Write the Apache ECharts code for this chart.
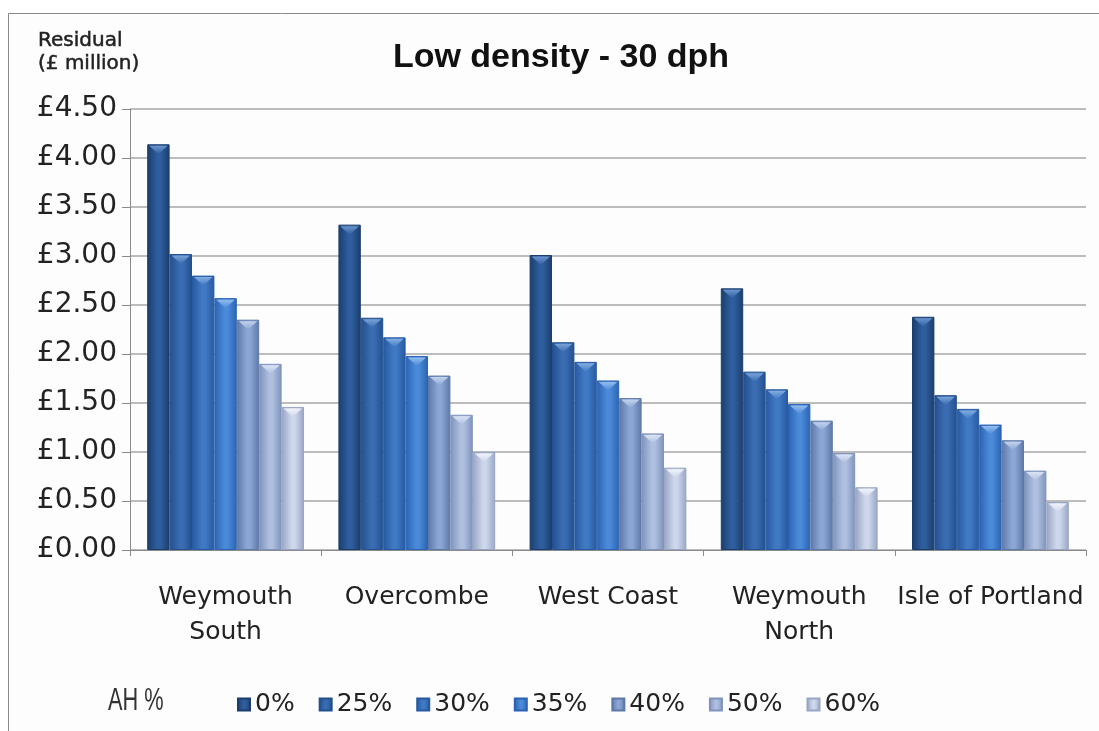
<!DOCTYPE html>
<html>
<head>
<meta charset="utf-8">
<script src="https://cdn.jsdelivr.net/npm/echarts@6/dist/echarts.min.js"></script>
<style>
  html, body { margin: 0; padding: 0; background: #ffffff; }
  #chart { width: 1099px; height: 731px; }
</style>
</head>
<body>
<div id="chart"></div>
<script>
// Residual land value by area and affordable housing share (£ million)
const areas = ['Weymouth\nSouth', 'Overcombe', 'West Coast', 'Weymouth\nNorth', 'Isle of Portland'];
const ahLevels = ['0%', '25%', '30%', '35%', '40%', '50%', '60%'];

const ah0  = [4.14, 3.32, 3.01, 2.67, 2.38];
const ah25 = [3.02, 2.37, 2.12, 1.82, 1.58];
const ah30 = [2.80, 2.17, 1.92, 1.64, 1.44];
const ah35 = [2.57, 1.98, 1.73, 1.49, 1.28];
const ah40 = [2.35, 1.78, 1.55, 1.32, 1.12];
const ah50 = [1.90, 1.38, 1.19, 0.99, 0.81];
const ah60 = [1.46, 1.00, 0.84, 0.64, 0.49];

const seriesValues = [ah0, ah25, ah30, ah35, ah40, ah50, ah60];

const yTicks = { min: 0, max: 4.5, interval: 0.5 };

const CATEGORY_GAP = 0.18;

// [edge, centre, highlight] shades for each bar family
const shades = [
  ['#1b3d6c', '#2e5e9e', '#6f98d0'],
  ['#22508e', '#3a6cb2', '#7ea6dc'],
  ['#2759a0', '#4079c4', '#88b0e4'],
  ['#2b63b2', '#4a8ad8', '#98c0f0'],
  ['#5d78a8', '#8ba6d4', '#c6d6f0'],
  ['#7f93bb', '#aebfe0', '#dde6f6'],
  ['#98a5c4', '#cdd6ea', '#f2f5fc']
];

const FONT = 'DejaVu Sans, Verdana, sans-serif';

function barFill(pair) {
  return new echarts.graphic.LinearGradient(0, 0, 1, 0, [
    { offset: 0, color: pair[0] },
    { offset: 0.45, color: pair[1] },
    { offset: 0.6, color: pair[1] },
    { offset: 1, color: pair[0] }
  ]);
}

const chart = echarts.init(document.getElementById('chart'), null, { renderer: 'canvas' });

const barSeries = ahLevels.map((name, i) => ({
  name: name,
  type: 'bar',
  data: seriesValues[i],
  barGap: '0%',
  barCategoryGap: (CATEGORY_GAP * 100) + '%',
  itemStyle: {
    color: barFill(shades[i]),
    borderColor: shades[i][0],
    borderWidth: 1
  },
  emphasis: { disabled: true }
}));

// Bevel highlight on the top of each bar, placed from the same values
const bevelSeries = ahLevels.map((name, i) => ({
  name: 'bevel ' + name,
  type: 'custom',
  silent: true,
  z: 3,
  data: seriesValues[i].map((v, c) => [c, v]),
  renderItem: function (params, api) {
    const pt = api.coord([api.value(0), api.value(1)]);
    const band = api.size([1, 0])[0];
    const barW = band * (1 - CATEGORY_GAP) / ahLevels.length;
    const left = pt[0] - band * (1 - CATEGORY_GAP) / 2 + i * barW;
    const top = pt[1];
    const inset = 2;
    const depth = Math.min(10, barW * 0.45);
    return {
      type: 'polygon',
      shape: {
        points: [
          [left + inset, top + 1.5],
          [left + barW - inset, top + 1.5],
          [left + barW / 2, top + depth]
        ]
      },
      style: {
        fill: new echarts.graphic.LinearGradient(0, 0, 0, 1, [
          { offset: 0, color: shades[i][2] },
          { offset: 1, color: shades[i][1] }
        ]),
        opacity: 0.95
      }
    };
  }
}));

chart.setOption({
  animation: false,
  backgroundColor: '#ffffff',
  title: {
    text: 'Low density - 30 dph',
    left: 556,
    textAlign: 'center',
    top: 36,
    textStyle: { fontFamily: 'Liberation Sans, Arial, sans-serif', fontSize: 34, fontWeight: 'bold', color: '#111' }
  },
  graphic: [
    {
      type: 'rect', z: -10, silent: true,
      shape: { x: 8.5, y: 13.5, width: 1200, height: 800 },
      style: { fill: '#fdfdfd', stroke: '#8a8a8a', lineWidth: 1 }
    },
    {
      type: 'text', x: 38, y: 29, silent: true,
      style: {
        text: 'Residual\n(£ million)', font: '20px ' + FONT, lineHeight: 23,
        fill: '#222', stroke: '#222', lineWidth: 0.5
      }
    },
    {
      type: 'text', x: 108, y: 685, scaleX: 0.68, silent: true,
      style: { text: 'AH %', font: '32px Liberation Sans, Arial, sans-serif', fill: '#333' }
    }
  ],
  legend: {
    data: ahLevels,
    left: 232,
    top: 687,
    icon: 'rect',
    itemWidth: 12,
    itemHeight: 12,
    itemGap: 24,
    textStyle: { fontFamily: FONT, fontSize: 25, color: '#222' }
  },
  grid: { left: 130, right: 13, top: 109, bottom: 181, containLabel: false },
  xAxis: {
    type: 'category',
    data: areas,
    axisLine: { show: true, lineStyle: { color: '#8a8a8a', width: 1 } },
    axisTick: { show: true, length: 6, lineStyle: { color: '#8a8a8a' } },
    axisLabel: {
      interval: 0,
      margin: 30,
      fontFamily: FONT,
      fontSize: 25,
      lineHeight: 35,
      color: '#222'
    }
  },
  yAxis: {
    type: 'value',
    min: yTicks.min,
    max: yTicks.max,
    interval: yTicks.interval,
    axisLine: { show: true, lineStyle: { color: '#8a8a8a', width: 1 } },
    axisTick: { show: true, length: 8, lineStyle: { color: '#8a8a8a' } },
    splitLine: { show: true, lineStyle: { color: '#a6a6a6', width: 1.5 } },
    axisLabel: {
      margin: 13,
      fontFamily: FONT,
      fontSize: 28,
      color: '#222',
      formatter: v => '£' + v.toFixed(2)
    }
  },
  series: barSeries.concat(bevelSeries)
});
</script>
</body>
</html>
